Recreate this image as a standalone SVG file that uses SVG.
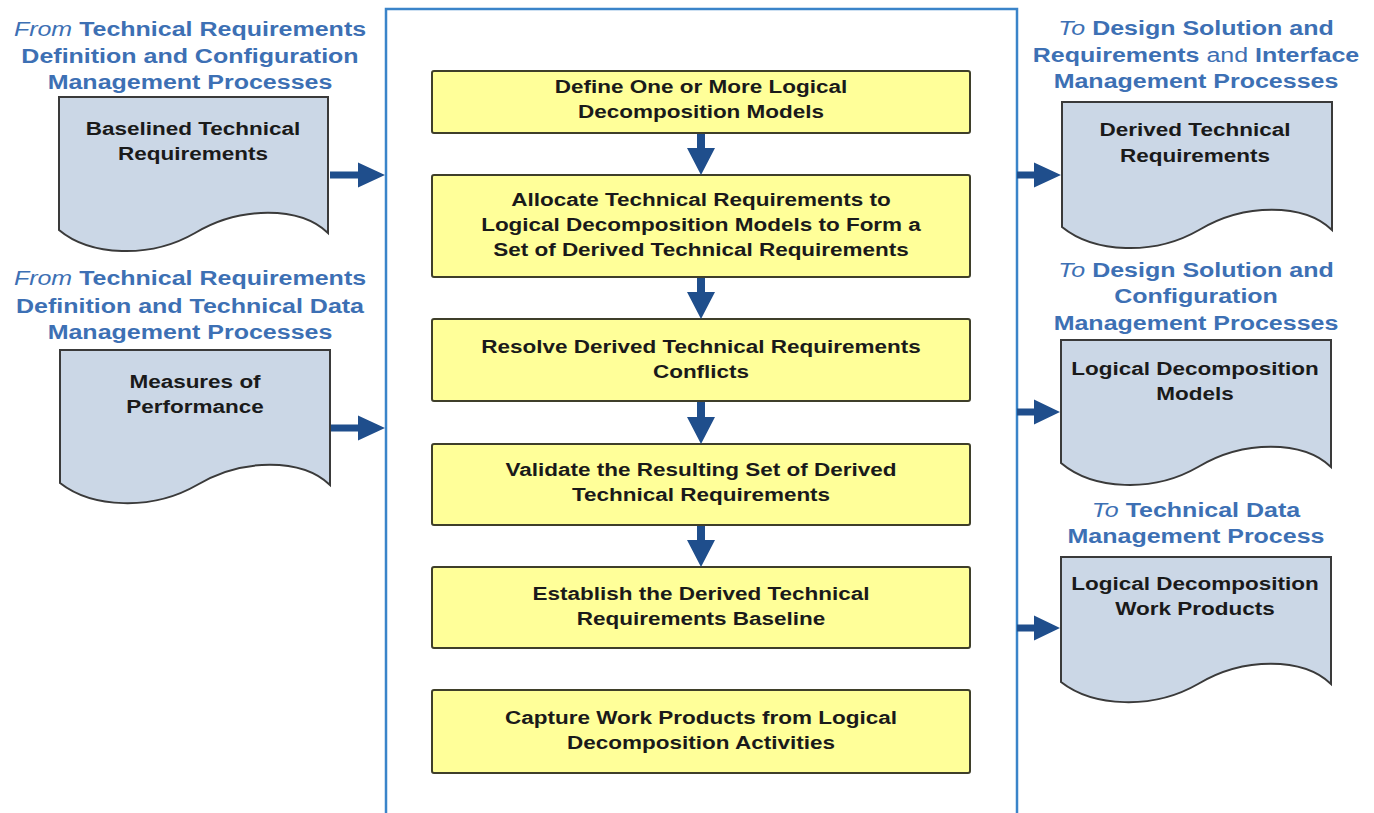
<svg xmlns="http://www.w3.org/2000/svg" width="1374" height="813" viewBox="0 0 1374 813">
<style>
.frame{fill:#ffffff;stroke:#3a84c9;stroke-width:2.5}
.box{fill:#ffff99;stroke:#3f3f2a;stroke-width:2}
.doc{fill:#cbd7e6;stroke:#3a3a3a;stroke-width:2}
.arr{fill:#1f4e8c;stroke:none}
.bx{font-family:"Liberation Sans",Arial,sans-serif;font-weight:bold;font-size:18px;fill:#1a1a1a;text-anchor:middle}
.lbl{font-family:"Liberation Sans",Arial,sans-serif;font-weight:bold;font-size:20px;fill:#3d70b4;text-anchor:middle}
.it{font-style:italic;font-weight:normal}
.nb{font-weight:normal}
</style>
<rect width="1374" height="813" fill="#ffffff"/>
<rect class="frame" x="386" y="9" width="631" height="815"/>

<g id="label-in1">
<text class="lbl" transform="translate(190,0) scale(1.25,1)"><tspan x="0" y="36"><tspan class="it">From</tspan> Technical Requirements</tspan><tspan x="0" y="63">Definition and Configuration</tspan><tspan x="0" y="89">Management Processes</tspan></text>
</g>
<g id="doc-baselined">
<path class="doc" d="M59,97 H328 V233 C300,206 240,206 195,233 C150,259 90,256 59,230 Z"/>
<text class="bx" transform="translate(193,0) scale(1.25,1)"><tspan x="0" y="135">Baselined Technical</tspan><tspan x="0" y="160">Requirements</tspan></text>
</g>

<g id="label-in2">
<text class="lbl" transform="translate(190,0) scale(1.25,1)"><tspan x="0" y="285"><tspan class="it">From</tspan> Technical Requirements</tspan><tspan x="0" y="313">Definition and Technical Data</tspan><tspan x="0" y="339">Management Processes</tspan></text>
</g>
<g id="doc-measures">
<path class="doc" d="M60,350 H330 V485 C302,458 242,458 197,485 C152,511 92,508 60,483 Z"/>
<text class="bx" transform="translate(195,0) scale(1.25,1)"><tspan x="0" y="388">Measures of</tspan><tspan x="0" y="413">Performance</tspan></text>
</g>

<g id="label-out1">
<text class="lbl" transform="translate(1196,0) scale(1.25,1)"><tspan x="0" y="35"><tspan class="it">To</tspan> Design Solution and</tspan><tspan x="0" y="62">Requirements <tspan class="nb">and</tspan> Interface</tspan><tspan x="0" y="88">Management Processes</tspan></text>
</g>
<g id="doc-derived">
<path class="doc" d="M1062,102 H1332 V230 C1304,203 1244,203 1199,230 C1154,256 1094,253 1062,227 Z"/>
<text class="bx" transform="translate(1195,0) scale(1.25,1)"><tspan x="0" y="136">Derived Technical</tspan><tspan x="0" y="162">Requirements</tspan></text>
</g>

<g id="label-out2">
<text class="lbl" transform="translate(1196,0) scale(1.25,1)"><tspan x="0" y="277"><tspan class="it">To</tspan> Design Solution and</tspan><tspan x="0" y="303">Configuration</tspan><tspan x="0" y="330">Management Processes</tspan></text>
</g>
<g id="doc-models">
<path class="doc" d="M1061,340 H1331 V467 C1303,440 1243,440 1198,467 C1153,493 1093,490 1061,463 Z"/>
<text class="bx" transform="translate(1195,0) scale(1.25,1)"><tspan x="0" y="375">Logical Decomposition</tspan><tspan x="0" y="400">Models</tspan></text>
</g>

<g id="label-out3">
<text class="lbl" transform="translate(1196,0) scale(1.25,1)"><tspan x="0" y="517"><tspan class="it">To</tspan> Technical Data</tspan><tspan x="0" y="543">Management Process</tspan></text>
</g>
<g id="doc-workproducts">
<path class="doc" d="M1061,557 H1331 V684 C1303,657 1243,657 1198,684 C1153,710 1093,707 1061,682 Z"/>
<text class="bx" transform="translate(1195,0) scale(1.25,1)"><tspan x="0" y="590">Logical Decomposition</tspan><tspan x="0" y="615">Work Products</tspan></text>
</g>

<g id="step1">
<rect class="box" x="432" y="71" width="538" height="62" rx="2"/>
<text class="bx" transform="translate(701,0) scale(1.25,1)"><tspan x="0" y="93">Define One or More Logical</tspan><tspan x="0" y="118">Decomposition Models</tspan></text>
</g>
<g id="step2">
<rect class="box" x="432" y="175" width="538" height="102" rx="2"/>
<text class="bx" transform="translate(701,0) scale(1.25,1)"><tspan x="0" y="206">Allocate Technical Requirements to</tspan><tspan x="0" y="231">Logical Decomposition Models to Form a</tspan><tspan x="0" y="256">Set of Derived Technical Requirements</tspan></text>
</g>
<g id="step3">
<rect class="box" x="432" y="319" width="538" height="82" rx="2"/>
<text class="bx" transform="translate(701,0) scale(1.25,1)"><tspan x="0" y="353">Resolve Derived Technical Requirements</tspan><tspan x="0" y="378">Conflicts</tspan></text>
</g>
<g id="step4">
<rect class="box" x="432" y="444" width="538" height="81" rx="2"/>
<text class="bx" transform="translate(701,0) scale(1.25,1)"><tspan x="0" y="476">Validate the Resulting Set of Derived</tspan><tspan x="0" y="501">Technical Requirements</tspan></text>
</g>
<g id="step5">
<rect class="box" x="432" y="567" width="538" height="81" rx="2"/>
<text class="bx" transform="translate(701,0) scale(1.25,1)"><tspan x="0" y="600">Establish the Derived Technical</tspan><tspan x="0" y="625">Requirements Baseline</tspan></text>
</g>
<g id="step6">
<rect class="box" x="432" y="690" width="538" height="83" rx="2"/>
<text class="bx" transform="translate(701,0) scale(1.25,1)"><tspan x="0" y="724">Capture Work Products from Logical</tspan><tspan x="0" y="749">Decomposition Activities</tspan></text>
</g>

<g id="connectors">
<polygon class="arr" points="330,171.5 358,171.5 358,162.5 385,175 358,187.5 358,178.5 330,178.5"/>
<polygon class="arr" points="331,424.5 358,424.5 358,415.5 385,428 358,440.5 358,431.5 331,431.5"/>
<polygon class="arr" points="1017,171.5 1034,171.5 1034,162.5 1061,175 1034,187.5 1034,178.5 1017,178.5"/>
<polygon class="arr" points="1017,408.5 1034,408.5 1034,399.5 1060,412 1034,424.5 1034,415.5 1017,415.5"/>
<polygon class="arr" points="1017,624.5 1034,624.5 1034,615.5 1060,628 1034,640.5 1034,631.5 1017,631.5"/>
<polygon class="arr" points="697,134 705,134 705,148 715,148 701,175 687,148 697,148"/>
<polygon class="arr" points="697,278 705,278 705,292 715,292 701,319 687,292 697,292"/>
<polygon class="arr" points="697,402 705,402 705,417 715,417 701,444 687,417 697,417"/>
<polygon class="arr" points="697,526 705,526 705,540 715,540 701,567 687,540 697,540"/>
</g>
</svg>
